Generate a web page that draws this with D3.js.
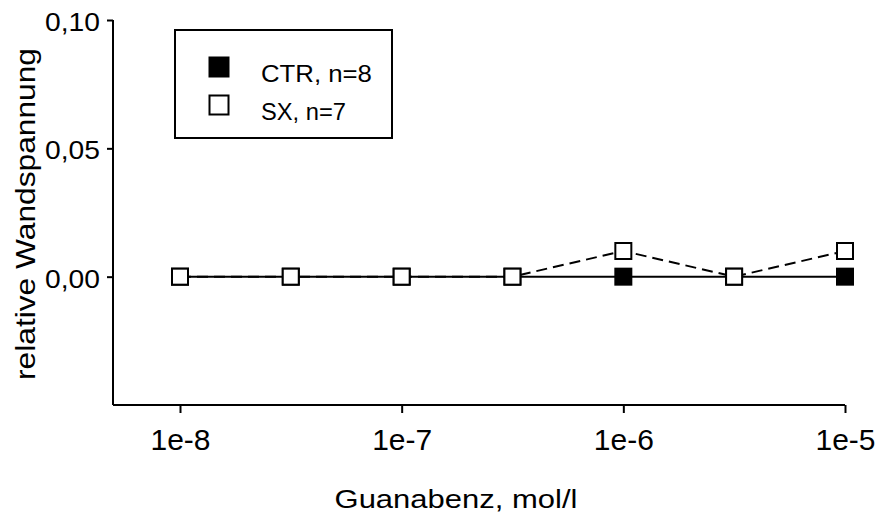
<!DOCTYPE html>
<html>
<head>
<meta charset="utf-8">
<script src="https://cdn.jsdelivr.net/npm/d3@7"></script>
<style>
  body { margin: 0; background: #fff; }
  svg text { font-family: "Liberation Sans", Arial, sans-serif; fill: #000; }
</style>
</head>
<body>
<svg id="chart" width="884" height="521"></svg>
<script>
// concentrations (mol/l), half-log steps
const conc = [1e-8, 3.16e-8, 1e-7, 3.16e-7, 1e-6, 3.16e-6, 1e-5];
const ctr = [0, 0, 0, 0, 0, 0, 0];
const sx = [0, 0, 0, 0, 0.01, 0, 0.01];
const x_ticks = [1e-8, 1e-7, 1e-6, 1e-5];
const x_tick_labels = ["1e-8", "1e-7", "1e-6", "1e-5"];
const y_ticks = [0, 0.05, 0.10];
const series_names = ["CTR, n=8", "SX, n=7"];

const params = {
  left: 113,
  right: 845,
  top: 20,
  bottom: 405,
  marker: 16,
  stroke: 2,
  font: "Liberation Sans, Arial, sans-serif"
};

const svg = d3.select("#chart");

// the original glyphs are a bit wider than Arial, stretch each text along its own x
function stretch(sel, width) {
  sel.each(function() {
    const t = d3.select(this),
      x0 = +t.attr("x") || 0,
      w = this.getComputedTextLength(),
      s = width / w,
      prev = t.attr("transform") || "";
    t.attr("x", 0).attr("transform", `${prev} translate(${x0},0) scale(${s},1)`);
  });
}

const x = d3.scaleLog().domain([1e-8, 1e-5]).range([180, params.right]),
  y = d3.scaleLinear().domain([-0.05, 0.10]).range([params.bottom, params.top]);

// y axis
const yAxis = svg.append("g")
  .attr("transform", `translate(${params.left},0)`)
  .call(d3.axisLeft(y).tickValues(y_ticks).tickSize(6).tickPadding(7)
    .tickFormat(d => d3.format(".2f")(d).replace(".", ",")));
yAxis.select(".domain").attr("d", `M0,${params.top}V${params.bottom}`);

// x axis
const xAxis = svg.append("g")
  .attr("transform", `translate(0,${params.bottom})`)
  .call(d3.axisBottom(x).tickValues(x_ticks).tickSize(8).tickPadding(16)
    .tickFormat((d, i) => x_tick_labels[i]));
xAxis.select(".domain").attr("d", `M${params.left},0H${params.right}`);

svg.selectAll(".domain, .tick line")
  .attr("stroke", "#000").attr("stroke-width", params.stroke);
svg.selectAll(".tick text").attr("fill", "#000").style("font-family", params.font);

yAxis.selectAll(".tick text").attr("font-size", 25).attr("dy", "0.42em")
  .call(stretch, 55);
xAxis.selectAll(".tick text").attr("font-size", 29)
  .call(stretch, 60);

// lines
const line = d3.line().x((d, i) => x(conc[i])).y(d => y(d));

svg.append("path").datum(ctr)
  .attr("d", line).attr("fill", "none")
  .attr("stroke", "#000").attr("stroke-width", params.stroke);

svg.append("path").datum(sx)
  .attr("d", line).attr("fill", "none")
  .attr("stroke", "#000").attr("stroke-width", params.stroke)
  .attr("stroke-dasharray", "11,6");

// markers (CTR first, SX drawn on top)
const m = params.marker;
svg.append("g").selectAll("rect").data(ctr).join("rect")
  .attr("x", (d, i) => x(conc[i]) - m / 2)
  .attr("y", d => y(d) - m / 2)
  .attr("width", m).attr("height", m)
  .attr("fill", "#000").attr("stroke", "#000").attr("stroke-width", params.stroke);

svg.append("g").selectAll("rect").data(sx).join("rect")
  .attr("x", (d, i) => x(conc[i]) - m / 2)
  .attr("y", d => y(d) - m / 2)
  .attr("width", m).attr("height", m)
  .attr("fill", "#fff").attr("stroke", "#000").attr("stroke-width", params.stroke);

// legend
const legend = svg.append("g");
legend.append("rect")
  .attr("x", 175).attr("y", 30).attr("width", 217).attr("height", 108)
  .attr("fill", "#fff").attr("stroke", "#000").attr("stroke-width", params.stroke);

const lm = 19;
const legend_widths = [111, 85];
series_names.forEach((name, i) => {
  const cy = 67 + i * 38;
  legend.append("rect")
    .attr("x", 219 - lm / 2).attr("y", cy - lm / 2)
    .attr("width", lm).attr("height", lm)
    .attr("fill", i == 0 ? "#000" : "#fff")
    .attr("stroke", "#000").attr("stroke-width", params.stroke);
  legend.append("text")
    .attr("x", 261).attr("y", cy + 15)
    .attr("font-size", 23)
    .text(name)
    .call(stretch, legend_widths[i]);
});

// axis titles
svg.append("text")
  .attr("x", 456).attr("y", 508)
  .attr("text-anchor", "middle")
  .attr("font-size", 25)
  .text("Guanabenz, mol/l")
  .call(stretch, 243);

svg.append("text")
  .attr("transform", "translate(35,214) rotate(-90)")
  .attr("text-anchor", "middle")
  .attr("font-size", 28)
  .text("relative Wandspannung")
  .call(stretch, 332);
</script>
</body>
</html>
